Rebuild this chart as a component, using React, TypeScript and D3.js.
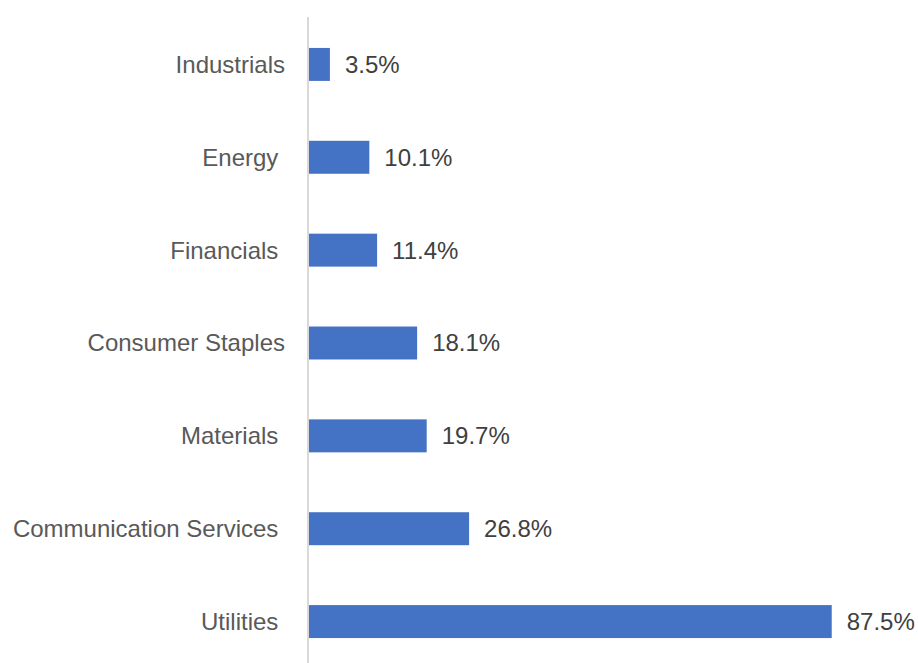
import React from "react";
import * as d3 from "d3";

const categories = [
  "Industrials",
  "Energy ",
  "Financials ",
  "Consumer Staples",
  "Materials ",
  "Communication Services ",
  "Utilities ",
];
const values = [3.5, 10.1, 11.4, 18.1, 19.7, 26.8, 87.5];
const valueLabels = ["3.5%", "10.1%", "11.4%", "18.1%", "19.7%", "26.8%", "87.5%"];

const W = 918;
const H = 663;

export default function App() {
  const x = d3.scaleLinear().domain([0, 100]).range([309, 906.4]);
  const y = d3
    .scaleBand<string>()
    .domain(categories)
    .range([18, 668])
    .paddingInner(0.645)
    .paddingOuter(0.3225);
  const font = "'Liberation Sans', Arial, sans-serif";
  return (
    <svg
      width={W}
      height={H}
      style={{ position: "absolute", left: 0, top: 0, background: "#fff" }}
    >
      {categories.map((c, i) => {
        const yc = (y(c) as number) + y.bandwidth() / 2;
        return (
          <g key={c}>
            <rect
              x={x(0)}
              y={y(c)}
              width={x(values[i]) - x(0)}
              height={y.bandwidth()}
              fill="#4472C4"
            />
            <text
              x={285}
              y={yc}
              dy="0.35em"
              textAnchor="end"
              fontFamily={font}
              fontSize={24}
              fill="#595959"
              style={{ whiteSpace: "pre" }}
              xmlSpace="preserve"
            >
              {c}
            </text>
            <text
              x={x(values[i]) + 15}
              y={yc}
              dy="0.35em"
              textAnchor="start"
              fontFamily={font}
              fontSize={24}
              fill="#404040"
            >
              {valueLabels[i]}
            </text>
          </g>
        );
      })}
      <line x1={308} x2={308} y1={17} y2={H} stroke="#d9d9d9" strokeWidth={2} />
    </svg>
  );
}
